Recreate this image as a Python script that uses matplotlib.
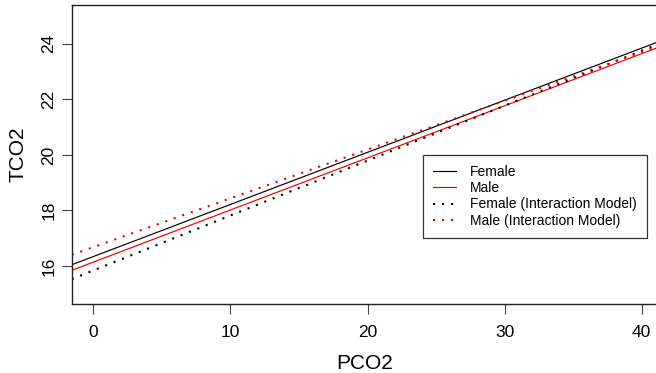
import numpy as np
import matplotlib
matplotlib.use("Agg")
import matplotlib.pyplot as plt
from matplotlib.lines import Line2D

plt.rcParams['font.family'] = ['Liberation Sans', 'DejaVu Sans']

# Model fits: intercept and slope of TCO2 on PCO2
series_names = ["Female", "Male", "Female (Interaction Model)", "Male (Interaction Model)"]
intercepts = [16.34, 16.14, 15.84, 16.68]
slopes = [0.1877, 0.1877, 0.1978, 0.1757]
colors = ["black", "#F00000", "black", "#F00000"]
styles = ["solid", "solid", "dotted", "dotted"]

x_ticks = [0, 10, 20, 30, 40]
y_ticks = [16, 18, 20, 22, 24]
xlim = (-1.58, 41.15)
ylim = (14.62, 25.40)

W, H = 656, 373
fig = plt.figure(figsize=(W / 100, H / 100), dpi=100)
left, right, top, bottom = 71.7, 657.5, 5.0, 304.3
ax = fig.add_axes([left / W, 1 - bottom / H, (right - left) / W, (bottom - top) / H])

DOT = (0, (1, 3.33))
xs = np.array(xlim)
for name, b0, b1, c, s in zip(series_names, intercepts, slopes, colors, styles):
    if s == "solid":
        ax.plot(xs, b0 + b1 * xs, color=c, lw=0.85, label=name, solid_capstyle='butt')
    else:
        ax.plot(xs, b0 + b1 * xs, color=c, lw=1.5, linestyle=DOT,
                dash_capstyle='butt', label=name)

ax.set_xlim(*xlim)
ax.set_ylim(*ylim)
ax.set_xticks(x_ticks)
ax.set_yticks(y_ticks)
ax.set_xticklabels([str(v) for v in x_ticks], fontsize=12.5)
ax.set_yticklabels([str(v) for v in y_ticks], fontsize=12.5, rotation=90, va='center')
ax.tick_params(axis='both', direction='out', length=7.2, width=0.8, color='#444444')
ax.tick_params(axis='x', pad=7.5)
ax.tick_params(axis='y', pad=4)
for sp in ax.spines.values():
    sp.set_linewidth(1.0)
    sp.set_color('#222222')
ax.spines['right'].set_visible(False)

ax.set_xlabel("PCO2", fontsize=15, labelpad=10)
ax.set_ylabel("TCO2", fontsize=15, labelpad=9.5)

leg_handles = [
    Line2D([], [], color=c, lw=(0.85 if s == "solid" else 1.5),
           linestyle=("-" if s == "solid" else DOT))
    for c, s in zip(colors, styles)
]
leg = ax.legend(leg_handles, series_names, loc='upper left',
                bbox_to_anchor=(422.7 / W, 1 - 154.7 / H), bbox_transform=fig.transFigure,
                fontsize=10, frameon=True, fancybox=False, borderaxespad=0,
                handlelength=1.7, handletextpad=1.0, labelspacing=0.17,
                borderpad=0.72)
leg.get_frame().set_edgecolor('black')
leg.get_frame().set_linewidth(0.9)

fig.savefig("out.png", dpi=100)
